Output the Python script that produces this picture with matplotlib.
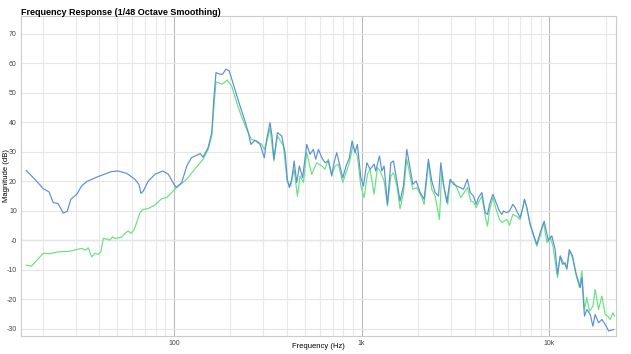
import matplotlib
matplotlib.use("Agg")
import matplotlib.pyplot as plt
from matplotlib.ticker import FixedLocator, NullFormatter

plt.rcParams['font.family'] = ['Liberation Sans', 'DejaVu Sans']

# blue trace (frequency in Hz, magnitude in dB)
blue_freq = [16.3, 18.5, 20.1, 21.6, 22.7, 24.1, 25.7, 27.0, 28.2, 30.3, 32.2, 34.2,
             39.4, 46.5, 50.5, 56.0, 61.9, 65.0, 66.7, 68.6, 73.0, 79.3, 87.1, 93.3,
             100, 103, 110, 117, 124, 138, 143, 152, 159, 163, 167.5, 176, 182, 189,
             197, 211, 225, 239, 249, 257, 270, 288, 303, 312, 325, 333, 341, 356,
             375, 391, 402, 412, 424, 437, 451, 466, 485, 510, 531, 553, 570, 589,
             614, 638, 665, 693, 713, 737, 767, 794, 827, 861, 890, 923, 950, 991,
             1023, 1067, 1110, 1166, 1190, 1245, 1282, 1318, 1374, 1432, 1479, 1542,
             1604, 1671, 1741, 1799, 1875, 1954, 2052, 2155, 2271, 2366, 2466, 2570,
             2645, 2731, 2846, 2965, 3090, 3220, 3352, 3493, 3665, 3793, 3948, 4083,
             4198, 4377, 4560, 4690, 4808, 5012, 5215, 5433, 5598, 5700, 5943, 6138,
             6397, 6586, 6776, 7000, 7240, 7386, 7600, 7925, 8250, 8590, 8950, 9400,
             9910, 10330, 10760, 11070, 11450, 11770, 12170, 12420, 12790, 13320,
             13880, 14630, 14930, 15420, 15870, 16550, 17100, 17580, 18330, 19100,
             19900, 20750, 22050]
blue_db = [23.7, 20.1, 17.5, 16.4, 12.8, 12.5, 9.2, 9.9, 13.9, 15.6, 18.4, 19.9,
           21.6, 23.3, 23.5, 22.7, 20.7, 19.0, 15.9, 16.7, 20.1, 22.4, 23.5, 22.4,
           19.0, 17.9, 19.6, 25.2, 28.0, 29.4, 28.2, 31.4, 36.5, 47.8, 56.8, 56.3, 56.3, 58.0,
           57.4, 51.2, 45.5, 40.4, 36.5, 32.5, 33.9, 32.5, 28.0, 34.2, 39.9, 35.4, 27.5, 36.5,
           35.4, 29.7, 20.7, 17.9, 20.7, 26.9, 19.6, 25.2, 21.2, 32.5, 29.2, 30.8, 27.5, 30.8,
           28.0, 26.3, 26.9, 21.8, 26.3, 29.7, 25.2, 21.2, 25.2, 28.0, 33.7, 29.7, 32.5, 21.2,
           18.4, 26.3, 24.1, 25.8, 23.5, 28.6, 23.5, 25.2, 12.2, 26.3, 26.9, 20.1,
           13.3, 18.4, 30.8, 25.8, 19.0, 20.1, 16.2, 13.9, 27.5, 20.1, 16.2, 15.0,
           26.3, 19.0, 12.8, 20.7, 19.0, 18.4, 17.9, 17.3, 20.7, 16.2, 15.0, 12.2,
           14.5, 16.2, 9.4, 8.8, 12.2, 15.6, 12.8, 9.9, 8.8, 9.9, 9.4, 9.9,
           12.2, 11.1, 9.4, 7.7, 11.1, 13.9, 11.1, 5.4, 2.0, -1.4, 2.6, 6.5,
           -0.2, 1.5, -3.1, -11.5, -5.3, -8.1, -7.6, -9.8, -3.1, -5.3,
           -11.0, -16.0, -12.6, -25.7, -23.4, -25.1, -29.1, -25.1, -27.9, -26.8,
           -28.5, -30.7, -30.2]

# green trace
green_freq = [16.3, 17.4, 20.1, 21.8, 24.1, 27.9, 30.3, 32.2, 33.8, 34.9, 36.4, 37.9,
              39.4, 40.8, 42.0, 45.6, 47.1, 48.5, 52.6, 54.8, 57.0, 59.0, 61.4, 62.5,
              65.9, 68.6, 73.0, 79.3, 85.9, 91.4, 97.2, 103, 117, 129, 143, 152, 159,
              164, 167.5, 175, 181, 192, 203, 216, 230, 244, 259, 276, 294, 303, 315,
              325, 341, 356, 383, 402, 419, 437, 455, 470, 490, 510, 542, 577, 614,
              638, 665, 693, 725, 752, 794, 827, 861, 898, 950, 991, 1031, 1075, 1110,
              1166, 1214, 1256, 1318, 1374, 1432, 1479, 1542, 1604, 1671, 1741, 1815,
              1875, 1969, 2095, 2155, 2271, 2366, 2466, 2600, 2678, 2754, 2880, 2965,
              3112, 3243, 3381, 3520, 3665, 3822, 3948, 4083, 4198, 4377, 4560, 4690,
              4808, 5012, 5215, 5433, 5598, 5943, 6138, 6397, 6776, 7000, 7386, 7600,
              7925, 8250, 8590, 8950, 9330, 9730, 10100, 10470, 11070, 11450, 11920,
              12420, 12850, 13320, 13880, 14500, 14930, 15420, 15870, 16400, 17100,
              17580, 18330, 19100, 19900, 20560, 21150, 21830, 22300]
green_db = [-8.4, -8.7, -4.4, -4.5, -3.9, -3.7, -3.1, -2.7, -3.3, -2.5, -5.6, -4.4,
            -4.7, -3.9, 0.7, 0.1, 1.2, 0.6, 1.1, 2.4, 3.2, 2.4, 3.7, 5.1,
            9.4, 10.5, 10.8, 12.0, 14.1, 14.5, 16.2, 17.9, 20.7, 24.1, 27.5, 30.8, 35.4,
            46.7, 53.7, 53.2, 52.9, 54.3, 52.3, 46.7, 41.6, 37.6, 34.2, 33.7, 32.5, 30.8, 34.2,
            38.0, 26.9, 35.4, 32.0, 19.6, 18.4, 24.1, 15.0, 21.8, 19.6, 29.7, 22.4, 26.3, 25.2,
            24.1, 27.5, 22.4, 25.2, 25.8, 19.6, 22.9, 26.3, 32.0, 28.6, 18.4, 14.5, 22.4, 24.1,
            15.6, 24.6, 23.5, 20.1, 11.6, 21.8, 22.9, 18.4, 10.7, 16.2, 27.5, 21.8,
            17.3, 17.9, 14.5, 12.2, 26.3, 17.3, 15.0, 7.1, 23.5, 17.9, 12.2, 20.1,
            19.6, 17.3, 14.5, 16.2, 17.9, 13.3, 13.0, 11.1, 12.8, 15.0, 8.2, 4.8,
            10.0, 14.5, 10.5, 7.1, 6.0, 7.1, 5.1, 8.8, 8.0, 7.0, 13.9, 11.0,
            5.0, 1.5, -2.0, 1.5, 6.0, -0.8, 1.5, -1.9, -12.6, -5.3, -7.6,
            -9.3, -3.7, -5.9, -11.5, -16.0, -10.4, -23.4, -19.4, -24.0, -22.3,
            -16.6, -23.4, -18.9, -25.1, -25.7, -26.8, -24.5, -25.7]

y_ticks = [70, 60, 50, 40, 30, 20, 10, 0, -10, -20, -30]
y_labels = ["70", "60", "50", "40", "30", "20", "10", "-0", "-10", "-20", "-30"]
x_major = [100, 1000, 10000]
x_labels = ["100", "1k", "10k"]

fig = plt.figure(figsize=(6.31, 3.54), dpi=100)
ax = fig.add_axes([0.0333, 0.0508, 0.9429, 0.9040])

ax.plot(green_freq, green_db, color="#66e27f", lw=0.85)
ax.plot(blue_freq, blue_db, color="#5a8fdc", lw=0.85)

ax.set_xscale("log")
ax.set_xlim(15.3, 22700)
ax.set_ylim(-32.4, 76)

ax.xaxis.set_major_locator(FixedLocator(x_major))
ax.set_xticklabels(x_labels)
minor = [m * d for d in (10, 100, 1000, 10000) for m in range(2, 10) if m * d < 22700]
ax.xaxis.set_minor_locator(FixedLocator(minor))
ax.xaxis.set_minor_formatter(NullFormatter())
ax.set_yticks(y_ticks)
ax.set_yticklabels(y_labels)

ax.tick_params(axis="both", which="both", length=0, labelsize=5, colors="#444444", pad=3)
ax.grid(which="minor", axis="x", color="#e8e8e8", lw=0.8)
ax.grid(which="major", axis="x", color="#bbbbbb", lw=0.8)
ax.grid(which="major", axis="y", color="#e6e6e6", lw=0.8)
ax.axhline(0, color="#c4c4c4", lw=0.9, zorder=0.5)
ax.set_axisbelow(True)
for s in ax.spines.values():
    s.set_color("#cccccc")
    s.set_linewidth(0.8)

fig.text(0.504, 0.022, "Frequency (Hz)", fontsize=5.5, ha="center", va="center")
fig.text(0.011, 0.505, "Magnitude (dB)", fontsize=5.5, ha="center", va="center",
         rotation=90)
fig.text(0.0333, 0.966, "Frequency Response (1/48 Octave Smoothing)",
         fontsize=6.5, fontweight="bold", ha="left", va="center")

fig.savefig("out.png", dpi=100, facecolor="white")
